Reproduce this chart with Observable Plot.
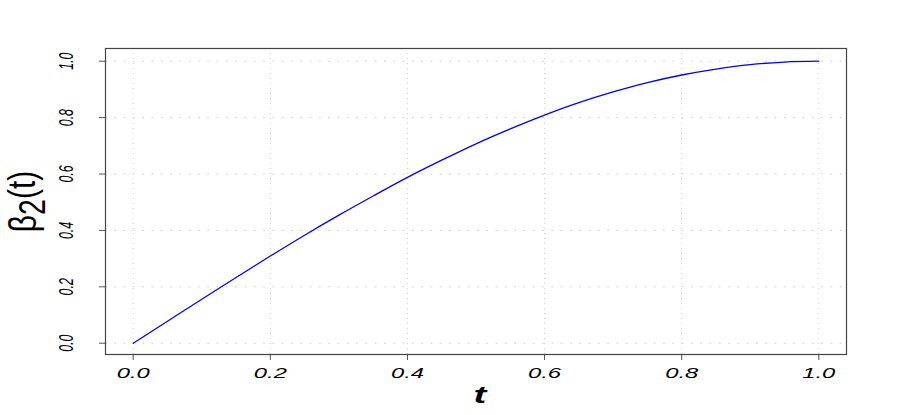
<!DOCTYPE html>
<html>
<head>
<meta charset="utf-8">
<script src="https://cdn.jsdelivr.net/npm/d3@7"></script>
<script src="https://cdn.jsdelivr.net/npm/@observablehq/plot@0.6"></script>
<style>
  html, body { margin: 0; padding: 0; background: #fff; }
  #chart svg { display: block; font-family: "Liberation Sans", Arial, sans-serif; }
</style>
</head>
<body>
<div id="chart"></div>
<script>
// t values and estimated beta_2(t) values
const tValues = [0, 0.05, 0.1, 0.15, 0.2, 0.25, 0.3, 0.35, 0.4, 0.45, 0.5, 0.55, 0.6, 0.65, 0.7, 0.75, 0.8, 0.85, 0.9, 0.95, 1.0];
const betaValues = [0, 0.078, 0.156, 0.233, 0.309, 0.383, 0.454, 0.522, 0.588, 0.649, 0.707, 0.760, 0.809, 0.853, 0.891, 0.924, 0.951, 0.972, 0.988, 0.997, 1.0];
const xTicks = [0, 0.2, 0.4, 0.6, 0.8, 1.0];
const yTicks = [0, 0.2, 0.4, 0.6, 0.8, 1.0];
const xTickLabels = ["0.0", "0.2", "0.4", "0.6", "0.8", "1.0"];
const yTickLabels = ["0.0", "0.2", "0.4", "0.6", "0.8", "1.0"];
const xTitle = "t";
const yTitle = "β2(t)";

const data = tValues.map((t, i) => ({t, b: betaValues[i]}));

const chart = Plot.plot({
  width: 900,
  height: 415,
  marginLeft: 105,
  marginRight: 54,
  marginTop: 48,
  marginBottom: 61,
  style: {fontFamily: "Liberation Sans, Arial, sans-serif", background: "#fff"},
  x: {domain: [-0.0404, 1.0404], axis: null},
  y: {domain: [-0.04, 1.045], axis: null},
  marks: [
    Plot.gridX(xTicks, {stroke: "#cfcfcf", strokeOpacity: 1, strokeWidth: 1, strokeDasharray: "1,4"}),
    Plot.gridY(yTicks, {stroke: "#cfcfcf", strokeOpacity: 1, strokeWidth: 1, strokeDasharray: "1.8,7.5"}),
    Plot.axisX(xTicks, {tickSize: 6, tickFormat: () => "", label: null, stroke: "#555", strokeWidth: 1}),
    Plot.axisY(yTicks, {tickSize: 6, tickFormat: () => "", label: null, stroke: "#555", strokeWidth: 1}),
    Plot.frame({stroke: "#444", strokeWidth: 1.2}),
    Plot.line(data, {x: "t", y: "b", stroke: "#0000ff", strokeWidth: 1.3, curve: "monotone-x"}),
    Plot.text(xTicks, {x: d => d, text: (d, i) => xTickLabels[i], frameAnchor: "bottom", dy: 14, lineAnchor: "top",
      fontSize: 14, fontStyle: "italic", fill: "#000001", textAnchor: "middle"}),
    Plot.text(yTicks, {y: d => d, text: (d, i) => yTickLabels[i], frameAnchor: "left", dx: -33, rotate: -90,
      lineAnchor: "bottom", fontSize: 12.4, fontStyle: "italic", fill: "#000002", textAnchor: "middle"}),
    Plot.text([yTitle], {text: d => d, frameAnchor: "left", dx: -70, rotate: -90, lineAnchor: "bottom",
      fontSize: 30, fill: "#000003", textAnchor: "middle"}),
    Plot.text([xTitle], {text: d => d, frameAnchor: "bottom", dx: 4, dy: 48, lineAnchor: "bottom",
      fontSize: 24, fontWeight: "bold", fontStyle: "italic", fill: "#000004", textAnchor: "middle"})
  ]
});

document.getElementById("chart").appendChild(chart);

function stretch(selector, sx, sy) {
  chart.querySelectorAll(selector).forEach(t => {
    let tr = t.getAttribute("transform");
    if (!tr) {
      const x = t.getAttribute("x") || 0, y = t.getAttribute("y") || 0;
      t.removeAttribute("x"); t.removeAttribute("y");
      tr = `translate(${x},${y})`;
    }
    t.setAttribute("transform", tr + ` scale(${sx},${sy})`);
  });
}

// subscript in y title
chart.querySelectorAll('g[fill="#000003"] text').forEach(t => {
  t.textContent = "";
  const ns = "http://www.w3.org/2000/svg";
  const a = document.createElementNS(ns, "tspan"); a.textContent = "β"; t.appendChild(a);
  const b = document.createElementNS(ns, "tspan"); b.textContent = "2"; b.setAttribute("dy", "0.25em"); b.setAttribute("font-size", "0.95em"); t.appendChild(b);
  const c = document.createElementNS(ns, "tspan"); c.textContent = "(t)"; c.setAttribute("dy", "-0.24em"); t.appendChild(c);
});

stretch('g[fill="#000001"] text', 1.7, 1);
stretch('g[fill="#000002"] text', 1, 1.7);
stretch('g[fill="#000003"] text', 1, 1.3);
stretch('g[fill="#000004"] text', 1.6, 1);
</script>
</body>
</html>
